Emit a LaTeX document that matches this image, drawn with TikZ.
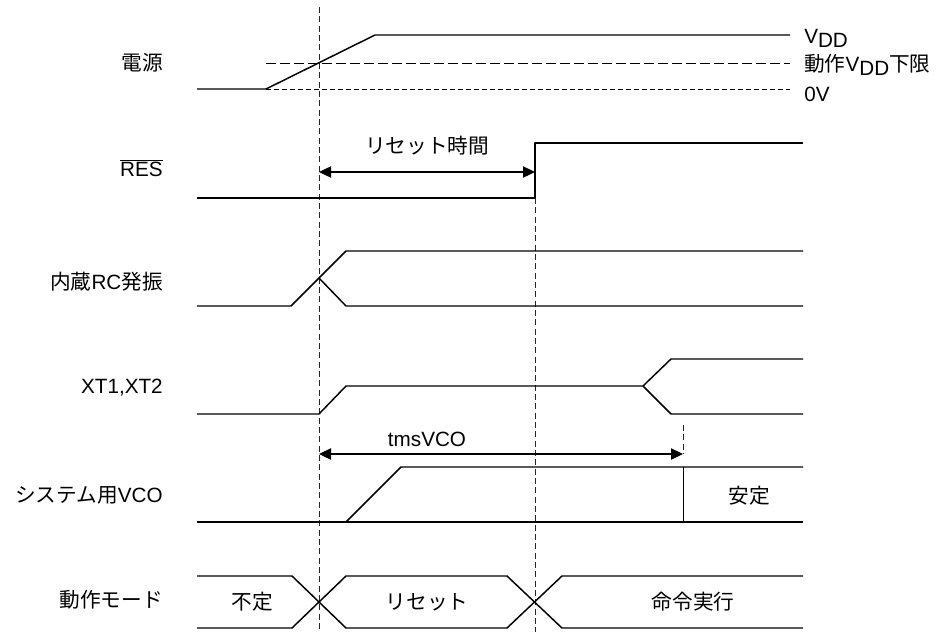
\documentclass[tikz,border=0pt]{standalone}
\usepackage{fontspec}
\setmainfont{Liberation Sans}
\newfontfamily\jpfont{Noto Sans CJK JP}
\usetikzlibrary{arrows.meta, positioning}

\newcommand{\ja}[1]{{\jpfont #1}}
\newcommand{\vddsub}{V\raisebox{-0.35ex}{DD}}

\begin{document}
\begin{tikzpicture}[x=0.75pt, y=-0.75pt, every node/.style={font=\fontsize{15.5}{17}\selectfont, inner sep=0pt},
		sig/.style={line width=1.1pt, line join=round},
		guide/.style={black!85, line width=0.75pt, dash pattern=on 4.5pt off 2.5pt},
		span/.style={line width=0.8pt, {Triangle[length=9pt, width=8.5pt]}-{Triangle[length=9pt, width=8.5pt]}}]
		\useasboundingbox (0,0) rectangle (939,633);
		
		\node[anchor=east] (pwr) at (163,63) {\ja{電源}};
		\node[anchor=east] (res) at (163,168) {$\overline{\hbox{RES}}$};
		\node[anchor=east] (rcosc) at (163,282) {\ja{内蔵}RC\ja{発振}};
		\node[anchor=east] (xt) at (163,388) {XT1,XT2};
		\node[anchor=east] (vco) at (163,495) {\ja{システム用}VCO};
		\node[anchor=east] (mode) at (163,600) {\ja{動作モード}};
		
		\draw[guide] (319,7) -- (319,632);
		\draw[guide] (535,198) -- (535,632);
		
		\draw[sig] (197,89) -- (266,89) -- (375,35) -- (790,35);
		\draw[black, line width=0.7pt, dash pattern=on 7.5pt off 3pt] (266,63) -- (790,63);
		\draw[black, line width=0.7pt, dash pattern=on 3.75pt off 2.25pt] (266,89) -- (790,89);
		\node[anchor=west] (vdd) at (804,38) {\vddsub};
		\node[anchor=west] (vmin) at (804,65) {\ja{動作}\vddsub\ja{下限}};
		\node[anchor=west] (zero) at (804,94) {0V};
		
		\draw[sig] (197,198) -- (535,198) -- (535,143) -- (803,143);
		\coordinate (rst0) at (319,172);
		\coordinate (rst1) at (535,172);
		\draw[span] (rst0) -- (rst1);
		\node (rstlbl) at (427,146) {\ja{リセット時間}};
		
		\draw[sig] (197,306) -- (291,306) -- (319,278) -- (346,251) -- (803,251);
		\draw[sig] (319,278) -- (346,306) -- (803,306);
		
		\draw[sig] (197,414) -- (319,414) -- (346,386) -- (643,386) -- (671,359) -- (803,359);
		\draw[sig] (643,386) -- (671,414) -- (803,414);
		
		\coordinate (tms0) at (319,454);
		\coordinate (tms1) at (683,454);
		\coordinate (tmstop) at (683,425);
		\draw[span] (tms0) -- (tms1);
		\draw[guide] (tmstop) -- (tms1);
		\node (tmslbl) at (427,439) {tmsVCO};
		
		\draw[sig] (197,522) -- (803,522);
		\draw[sig] (346,522) -- (401,467) -- (803,467);
		\draw[line width=0.7pt] (683,467) -- (683,522);
		\node (stable) at (749,496) {\ja{安定}};
		
		\draw[sig] (197,576) -- (292,576) -- (346,628) -- (507,628) -- (562,576) -- (803,576);
		\draw[sig] (197,628) -- (292,628) -- (346,576) -- (507,576) -- (562,628) -- (803,628);
		\node (undef) at (252,602) {\ja{不定}};
		\node (inreset) at (427,602) {\ja{リセット}};
		\node (exec) at (693,602) {\ja{命令実行}};
	\end{tikzpicture}
\end{document}
